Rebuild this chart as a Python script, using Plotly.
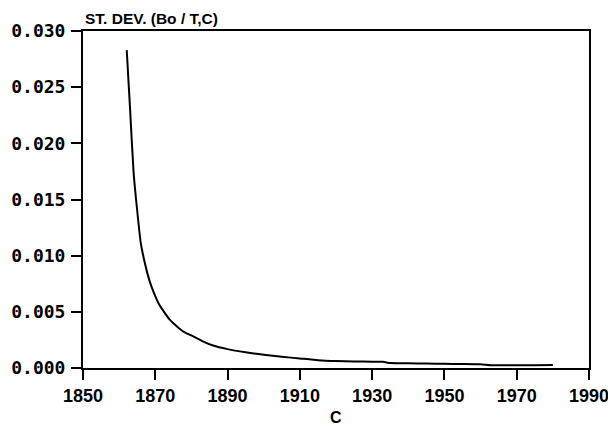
import plotly.graph_objects as go

# Standard deviation of Bo versus C
c_values = [1862.1, 1863.0, 1864.0, 1865.0, 1866.0, 1867.0, 1868.0, 1869.0, 1870.0,
            1871.0, 1872.0, 1874.0, 1876.0, 1878.0, 1880.0, 1883.0, 1886.0, 1890.0,
            1895.0, 1900.0, 1905.0, 1910.0, 1915.0, 1920.0, 1925.0, 1930.0, 1933.0,
            1935.0, 1940.0, 1945.0, 1950.0, 1955.0, 1960.0, 1963.0, 1970.0, 1975.0,
            1980.0]
st_dev = [0.0283, 0.0232, 0.0174, 0.0140, 0.0111, 0.0095, 0.0082, 0.0072, 0.0064,
          0.0057, 0.0052, 0.0043, 0.0037, 0.0032, 0.0029, 0.0024, 0.0020, 0.00168,
          0.0014, 0.00118, 0.0010, 0.00085, 0.00070, 0.00062, 0.00058, 0.00056, 0.00055,
          0.00044, 0.00042, 0.00040, 0.00037, 0.00036, 0.00033, 0.00024, 0.00024, 0.00025,
          0.00026]

x_ticks = [1850, 1870, 1890, 1910, 1930, 1950, 1970, 1990]
y_ticks = [0.000, 0.005, 0.010, 0.015, 0.020, 0.025, 0.030]
y_tick_text = ["0.000", "0.005", "0.010", "0.015", "0.020", "0.025", "0.030"]

fig = go.Figure()
fig.add_trace(go.Scatter(
    x=c_values, y=st_dev, mode="lines",
    line=dict(color="black", width=2, shape="spline", smoothing=0.5),
    showlegend=False, hoverinfo="skip",
))

axis_common = dict(
    showgrid=False, zeroline=False, showline=True, linecolor="black", linewidth=2,
    mirror=True, ticks="outside", ticklen=10, tickwidth=2, tickcolor="black",
    ticklabeloverflow="allow", automargin=False,
)

sans = "Liberation Sans, Arial, sans-serif"

fig.update_xaxes(
    range=[1850, 1990], tickmode="array", tickvals=x_ticks,
    tickfont=dict(family=sans, size=18, color="black", weight="bold"),
    ticklabelstandoff=0,
    **axis_common,
)
fig.update_yaxes(
    range=[0, 0.030], tickmode="array", tickvals=y_ticks, ticktext=y_tick_text,
    tickfont=dict(family="DejaVu Sans Mono", size=18, color="black", weight="bold"),
    ticklabelstandoff=2,
    **axis_common,
)

# axis titles
fig.add_annotation(
    text="ST. DEV. (Bo / T,C)", xref="paper", yref="paper", x=0, y=1,
    xanchor="left", yanchor="bottom", yshift=2, showarrow=False,
    font=dict(family=sans, size=15.5, color="black", weight="bold"),
)
fig.add_annotation(
    text="C", xref="paper", yref="paper", x=0.5, y=0,
    xanchor="center", yanchor="middle", yshift=-49, showarrow=False,
    font=dict(family=sans, size=16, color="black", weight="bold"),
)

fig.update_layout(
    width=608, height=426,
    margin=dict(l=83, r=19, t=31, b=58),
    paper_bgcolor="white", plot_bgcolor="white",
)

fig.write_html("out.html")
